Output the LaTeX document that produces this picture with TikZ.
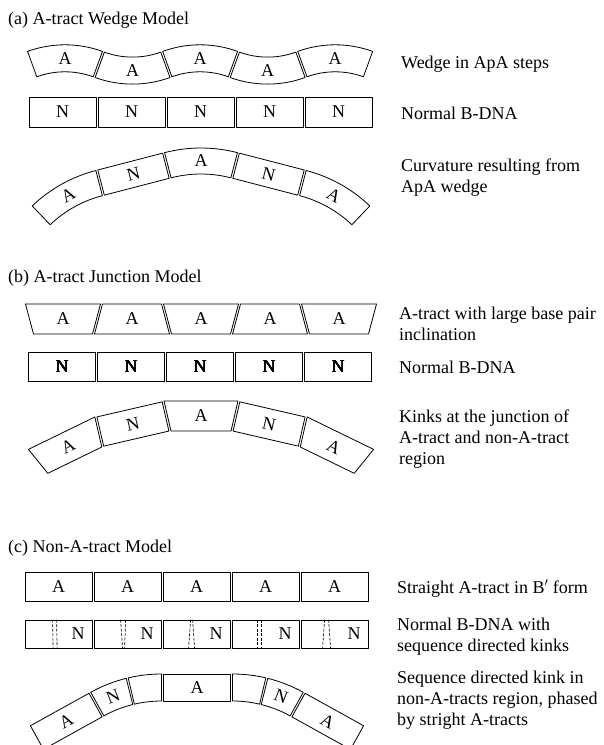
\documentclass[tikz,border=0pt]{standalone}
\usepackage{fontspec}
\setmainfont{Liberation Serif}
\usetikzlibrary{calc}

% half thickness of a bent piece
\def\hw{13}
% piece bent round a centre: centre x, centre y, radius, from angle, to angle
\newcommand{\arcbox}[5]{%
  \draw[seg] ([shift={(#1,#2)}]#4:{#3-\hw}) -- ([shift={(#1,#2)}]#4:{#3+\hw})
    arc[start angle=#4, end angle=#5, radius={#3+\hw}]
    -- ([shift={(#1,#2)}]#5:{#3-\hw})
    arc[start angle=#5, end angle=#4, radius={#3-\hw}] -- cycle;}
% inclined piece: centre x, centre y, rotation, slant of sides, name, text
\newcommand{\trapbox}[6]{%
  \begin{scope}[shift={(#1,#2)}, rotate=#3]
    \draw[seg] ({-33.5-(#4)},15) -- ({33.5+(#4)},15)
      -- ({33.5-(#4)},-15) -- ({-33.5+(#4)},-15) -- cycle;
    \node[lett, rotate=#3] (#5) at (0,0) {#6};
  \end{scope}}

\begin{document}
\begin{tikzpicture}[
    x=1pt, y=1pt,
    font=\fontsize{18}{21}\selectfont,
    seg/.style={draw, line width=0.8pt, line join=round},
    lett/.style={inner sep=0pt},
    boxn/.style={seg, minimum width=67pt, minimum height=29pt, inner sep=0pt},
    kinkline/.style={line width=0.6pt, dash pattern=on 3pt off 1.5pt},
    lbl/.style={anchor=base west, align=left, inner sep=0pt},
    ttl/.style={anchor=base west, inner sep=0pt}
  ]
  \useasboundingbox (0,0) rectangle (604,-745);
  \clip (0,0) rectangle (604,-745);

  % (a) wedge model
  \node[ttl] (ta) at (8,-24) {(a) A-tract Wedge Model};
  \begin{scope}
    \def\hw{13.5}
    \foreach \k/\s in {0/1,1/-1,2/1,3/-1,4/1}{
      \pgfmathsetmacro\cx{65+67.55*\k}
      \pgfmathsetmacro\cy{-64.45+6.15*\s}
      \pgfmathsetmacro\oy{\cy-96*\s}
      \pgfmathsetmacro\aa{90*\s-20}
      \pgfmathsetmacro\ab{90*\s+20}
      \arcbox{\cx}{\oy}{96}{\aa}{\ab}
      \node[lett] (wedge\k) at (\cx,\cy) {A};
    }
  \end{scope}
  \foreach \k in {0,...,4}
    \node[boxn, minimum height=30pt] (normA\k) at ({62.5+69*\k},-112) {N};
  % bent by the wedges
  \arcbox{201}{-293}{132}{75.45}{104.55}
  \node[lett] (bendA0) at (201,-161) {A};
  \arcbox{269.73}{-310.84}{132}{46.35}{75.45}
  \node[lett, rotate=-29.1] (bendA1) at (333.9,-195.5) {A};
  \arcbox{132.27}{-310.84}{132}{104.55}{133.65}
  \node[lett, rotate=29.1] (bendA2) at (68.1,-195.5) {A};
  \node[boxn, minimum height=26pt, rotate=-14.55] (bendN1) at (268.53,-174.15) {N};
  \node[boxn, minimum height=26pt, rotate=14.55] (bendN2) at (133.47,-174.15) {N};

  % labels sit on the baseline of their last line
  \node[lbl] (la1) at (401,-68) {Wedge in ApA steps};
  \node[lbl] (la2) at (401,-119) {Normal B-DNA};
  \node[lbl] (la3) at (401,-192) {Curvature resulting from\\ApA wedge};

  % (b) junction model
  \node[ttl] (tb) at (8,-282) {(b) A-tract Junction Model};
  \foreach \k/\s in {0/1,1/-1,2/1,3/-1,4/1}
    \trapbox{63+69*\k}{-319}{0}{4*\s}{incl\k}{A}
  \foreach \k in {0,...,4}
    \node[boxn] (normB\k) at ({62+69*\k},-367) {N};
  % kinked at the junctions
  \trapbox{201}{-416}{0}{3.46}{kinkA0}{A}
  \trapbox{333.79}{-446.67}{-26}{3.46}{kinkA1}{A}
  \trapbox{68.21}{-446.67}{26}{3.46}{kinkA2}{A}
  \node[boxn, minimum height=30pt, rotate=-13] (kinkN1) at (269.09,-423.99) {N};
  \node[boxn, minimum height=30pt, rotate=13] (kinkN2) at (132.91,-423.99) {N};

  \node[lbl] (lb1) at (399,-340) {A-tract with large base pair\\inclination};
  \node[lbl] (lb2) at (399,-373) {Normal B-DNA};
  \node[lbl] (lb3) at (399,-464) {Kinks at the junction of\\A-tract and non-A-tract\\region};

  % (c) non-A-tract model
  \node[ttl] (tc) at (8,-552) {(c) Non-A-tract Model};
  \foreach \k in {0,...,4}{
    \node[boxn] (straightA\k) at ({58.5+69*\k},-587) {A};
    \node[boxn, minimum height=28pt] (seqN\k) at ({58.5+69*\k},-634) {};
    \node[lett] (seqL\k) at ({78+69*\k},-634) {N};
  }
  \foreach \k/\a/\b/\c/\d in {0/28/28.5/32/32.5, 1/27/29/32/31, 2/28/26/30/32,
                              3/26/26/30/30, 4/24/22/28/30}
    \draw[kinkline] ($(seqN\k.north west)+(\a,0)$) -- ($(seqN\k.south west)+(\b,0)$)
                    ($(seqN\k.north west)+(\c,0)$) -- ($(seqN\k.south west)+(\d,0)$);
  % phased kinks
  \begin{scope}
    \def\hw{13.5}
    \node[boxn, minimum height=27pt] (phasA0) at (197,-687.5) {A};
    \arcbox{232.5}{-819.9}{132.4}{76.8}{90}
    \arcbox{232.5}{-819.9}{132.4}{61}{76}
    \node[lett, rotate=-21.5] (phasN1) at ($(232.5,-819.9)+(68.5:132.4)$) {N};
    \arcbox{161.5}{-819.9}{132.4}{90}{103.2}
    \arcbox{161.5}{-819.9}{132.4}{104}{119}
    \node[lett, rotate=21.5] (phasN2) at ($(161.5,-819.9)+(111.5:132.4)$) {N};
    \node[boxn, minimum height=27pt, rotate=-29] (phasA1) at (327.74,-721.31) {A};
    \node[boxn, minimum height=27pt, rotate=29] (phasA2) at (66.26,-721.31) {A};
  \end{scope}

  \node[lbl] (lc1) at (397,-593) {Straight A-tract in B$'$ form};
  \node[lbl] (lc2) at (397,-651) {Normal B-DNA with\\sequence directed kinks};
  \node[lbl] (lc3) at (397,-725) {Sequence directed kink in\\non-A-tracts region, phased\\by stright A-tracts};
\end{tikzpicture}
\end{document}
